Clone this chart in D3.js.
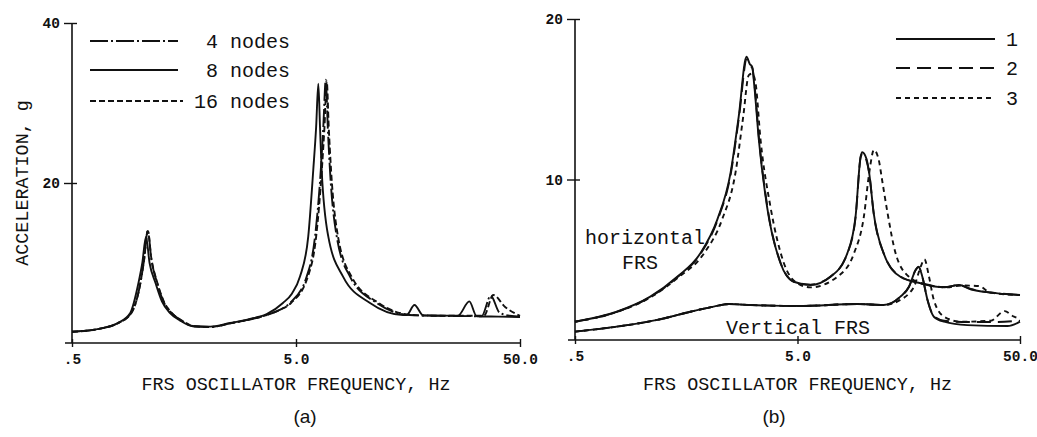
<!DOCTYPE html>
<html>
<head>
<meta charset="utf-8">
<script src="https://cdn.jsdelivr.net/npm/d3@7.9.0/dist/d3.min.js"></script>
<style>
  body { margin: 0; background: #fff; }
  svg { display: block; }
</style>
</head>
<body>
<svg id="chart" width="1037" height="437"></svg>
<script>
// ---- data: [frequency Hz, acceleration g] ----
const nodes4 = [
  [0.5, 1.4], [0.667, 1.8], [0.8, 2.45], [0.92, 3.75], [1.01, 7.5], [1.05, 10.5], [1.09, 14.1],
  [1.13, 10.5], [1.2, 7.5], [1.28, 5.2], [1.39, 3.75], [1.54, 2.8], [1.75, 2.1], [2.07, 2.0],
  [2.54, 2.45], [3.12, 2.95], [3.7, 3.5], [4.2, 4.1], [4.7, 5.0], [5.58, 8.3], [6.08, 13.3],
  [6.45, 21.6], [6.62, 27], [6.79, 32.9], [6.93, 27], [7.09, 21.6], [7.6, 13.3], [8.71, 8.3],
  [11.46, 5.0], [16.1, 3.5], [22, 3.4], [33.7, 3.35], [37.0, 5.9], [40.5, 3.8], [45, 3.4], [50, 3.3]
];
const nodes8 = [
  [0.5, 1.4], [0.667, 1.8], [0.8, 2.5], [0.91, 3.75], [0.99, 7.5], [1.03, 10], [1.07, 13.3],
  [1.11, 10], [1.18, 7.5], [1.26, 5.2], [1.37, 3.75], [1.52, 2.8], [1.73, 2.1], [2.07, 2.05],
  [2.54, 2.5], [3.12, 3.0], [3.7, 3.6], [4.37, 5.0], [4.8, 6.2], [5.21, 8.3], [5.67, 13.3],
  [5.97, 21.6], [6.15, 27], [6.29, 32.4], [6.4, 27], [6.51, 21.6], [6.97, 13.3], [8.11, 8.3],
  [10.7, 5.0], [15.0, 3.5], [15.6, 3.5], [16.9, 4.75], [18.5, 3.45], [26.4, 3.4], [29.7, 5.2],
  [32.0, 3.35], [40, 3.3], [50, 3.25]
];
const nodes16 = [
  [0.5, 1.4], [0.667, 1.8], [0.8, 2.45], [0.92, 3.75], [1.01, 7.5], [1.05, 10.5], [1.09, 14.0],
  [1.13, 10.6], [1.2, 7.6], [1.28, 5.3], [1.39, 3.8], [1.54, 2.85], [1.75, 2.1], [2.07, 2.0],
  [2.54, 2.45], [3.12, 2.95], [3.7, 3.5], [4.2, 4.1], [4.75, 5.0], [5.65, 8.3], [6.15, 13.3],
  [6.52, 21.6], [6.7, 27], [6.86, 32.7], [7.0, 27], [7.17, 21.6], [7.7, 13.3], [8.85, 8.3],
  [11.7, 5.0], [16.5, 3.5], [22, 3.4], [34.5, 3.4], [38.0, 6.0], [42.9, 4.5], [50, 3.4]
];

const horiz1 = [
  [0.5, 1.14], [0.77, 1.76], [1.09, 2.7], [1.44, 3.94], [1.83, 5.4], [2.18, 7.5], [2.5, 10.4],
  [2.72, 13.9], [2.95, 17.65], [3.05, 17.2], [3.13, 17.0], [3.2, 15.8], [3.35, 12.5], [3.65, 8.3],
  [4.19, 4.8], [4.81, 3.63], [5.72, 3.43], [7.04, 3.94], [8.37, 5.4], [9.12, 7.7], [9.6, 11.4],
  [9.77, 11.7], [10.2, 11.3], [10.5, 10.4], [11.0, 7.9], [12.2, 5.4], [14.5, 3.94], [17.9, 3.53],
  [22.8, 3.28], [26.6, 3.43], [30.0, 3.16], [36.9, 2.95], [50, 2.8]
];
const horiz2 = [
  [0.5, 1.14], [0.77, 1.75], [1.09, 2.68], [1.44, 3.9], [1.84, 5.4], [2.19, 7.5], [2.51, 10.4],
  [2.73, 13.9], [2.96, 17.5], [3.07, 17.1], [3.14, 16.9], [3.21, 15.8], [3.36, 12.5], [3.66, 8.3],
  [4.2, 4.8], [4.82, 3.63], [5.72, 3.45], [7.04, 3.96], [8.38, 5.4], [9.13, 7.7], [9.62, 11.4],
  [9.79, 11.6], [10.2, 11.2], [10.5, 10.4], [11.0, 7.9], [12.2, 5.4], [14.5, 3.96], [17.9, 3.55],
  [22.8, 3.3], [26.6, 3.42], [30.0, 3.18], [36.9, 2.96], [50, 2.82]
];
const horiz3 = [
  [0.5, 1.14], [0.77, 1.74], [1.09, 2.65], [1.44, 3.85], [1.9, 5.4], [2.29, 7.5], [2.63, 10.4],
  [2.85, 13.9], [3.02, 16.5], [3.13, 16.6], [3.24, 16.0], [3.41, 12.5], [3.78, 8.3], [4.34, 4.8],
  [5.0, 3.53], [5.72, 3.28], [7.55, 3.94], [8.97, 5.4], [9.94, 7.7], [10.5, 10.4], [11.03, 11.84],
  [11.6, 11.2], [12.0, 9.97], [12.7, 7.9], [13.8, 5.4], [15.85, 3.94], [19.2, 3.43], [23.6, 3.28],
  [27.1, 3.4], [32.7, 3.36], [36.9, 2.95], [50, 2.8]
];

const vert1 = [
  [0.5, 0.52], [0.77, 0.83], [1.17, 1.25], [1.65, 1.76], [2.1, 2.08], [2.46, 2.24], [3.07, 2.18],
  [5.16, 2.12], [9.28, 2.24], [12.2, 2.18], [14.5, 2.7], [15.85, 3.32], [16.98, 4.36], [17.5, 4.57],
  [18.2, 3.94], [19.2, 2.49], [20.5, 1.45], [22.8, 1.14], [29.0, 0.93], [43.9, 0.87], [50, 1.14]
];
const vert2 = [
  [0.5, 0.52], [0.77, 0.83], [1.17, 1.25], [1.65, 1.76], [2.1, 2.08], [2.46, 2.24], [3.07, 2.18],
  [5.16, 2.12], [9.28, 2.24], [12.2, 2.18], [14.5, 2.7], [15.85, 3.32], [16.98, 4.36], [17.5, 4.55],
  [18.2, 3.94], [19.2, 2.49], [20.5, 1.5], [22.8, 1.2], [29.0, 1.12], [38, 1.12], [50, 1.2]
];
const vert3 = [
  [0.5, 0.52], [0.77, 0.83], [1.17, 1.25], [1.65, 1.76], [2.1, 2.08], [2.46, 2.24], [3.07, 2.18],
  [5.16, 2.12], [9.28, 2.24], [12.2, 2.18], [14.5, 2.5], [15.85, 2.9], [16.7, 3.32], [17.9, 4.57],
  [18.6, 5.03], [19.5, 3.94], [20.5, 2.49], [22.8, 1.45], [27.1, 1.14], [36.9, 1.2], [42.7, 1.8],
  [47.0, 1.45], [50, 1.35]
];

const xTicks = [0.5, 5, 50];
const xTickLabels = ['.5', '5.0', '50.0'];
const yTicksA = [20, 40];
const yTicksB = [10, 20];
const legendA = ['4 nodes', '8 nodes', '16 nodes'];
const legendB = ['1', '2', '3'];

// ---- drawing ----
const svg = d3.select('#chart');
const mono = '"Liberation Mono", "Courier New", monospace';

const dashA = ['18,3,2,3', null, '6,3'];
const dashB = [null, '14,7', '5,4'];

function drawPanel(p) {
  const x = d3.scaleLog().domain([0.5, 50]).range(p.xRange);
  const y = d3.scaleLinear().domain(p.yDomain).range(p.yRange);
  const g = svg.append('g');

  // axes lines
  g.append('line')
    .attr('x1', p.xRange[0] - 7).attr('x2', p.xRange[1] + 1)
    .attr('y1', y(0)).attr('y2', y(0))
    .attr('stroke', '#111').attr('stroke-width', 1.6);
  g.append('line')
    .attr('x1', p.xRange[0]).attr('x2', p.xRange[0])
    .attr('y1', p.yRange[1]).attr('y2', y(0))
    .attr('stroke', '#111').attr('stroke-width', 1.6);

  const xAxis = g.append('g')
    .attr('transform', `translate(0,${y(0)})`)
    .call(d3.axisBottom(x).tickValues(xTicks)
      .tickFormat((d, i) => xTickLabels[i]).tickSize(4).tickPadding(7).tickSizeOuter(0));
  xAxis.select('.domain').remove();
  xAxis.selectAll('.tick line').attr('y1', -4).attr('stroke', '#111').attr('stroke-width', 1.4);
  xAxis.selectAll('text')
    .attr('font-family', mono).attr('font-size', 14.5).attr('font-weight', 'bold').attr('fill', '#111');

  const yAxis = g.append('g')
    .attr('transform', `translate(${p.xRange[0]},0)`)
    .call(d3.axisLeft(y).tickValues(p.yTicks).tickSize(8).tickPadding(4).tickSizeOuter(0));
  yAxis.select('.domain').remove();
  yAxis.selectAll('.tick line').attr('x1', 5).attr('stroke', '#111').attr('stroke-width', 1.4);
  yAxis.selectAll('text')
    .attr('font-family', mono).attr('font-size', 14.5).attr('font-weight', 'bold').attr('fill', '#111');

  // x title
  g.append('text')
    .attr('x', (p.xRange[0] + p.xRange[1]) / 2).attr('y', 390)
    .attr('text-anchor', 'middle')
    .attr('font-family', mono).attr('font-size', 18.4).attr('fill', '#111')
    .text('FRS OSCILLATOR FREQUENCY, Hz');

  // caption
  g.append('text')
    .attr('x', p.capX).attr('y', 423)
    .attr('text-anchor', 'middle')
    .attr('font-family', '"Liberation Sans", Arial, sans-serif').attr('font-size', 19).attr('fill', '#111')
    .text(p.caption);

  const line = d3.line().x(d => x(d[0])).y(d => y(d[1])).curve(d3.curveMonotoneX);
  p.series.forEach((s, i) => {
    g.append('path')
      .datum(s)
      .attr('d', line)
      .attr('fill', 'none')
      .attr('stroke', '#111')
      .attr('stroke-width', 1.9)
      .attr('stroke-linejoin', 'round')
      .attr('stroke-dasharray', p.dash[p.seriesKey[i]]);
  });
  return { g, x, y };
}

drawPanel({
  xRange: [72, 520], yRange: [343, 23], yDomain: [0, 40], yTicks: yTicksA,
  series: [nodes4, nodes8, nodes16], seriesKey: [0, 1, 2], dash: dashA,
  caption: '(a)', capX: 305
});
drawPanel({
  xRange: [575, 1020], yRange: [340, 19], yDomain: [0, 20], yTicks: yTicksB,
  series: [horiz1, horiz2, horiz3, vert1, vert2, vert3], seriesKey: [0, 1, 2, 0, 1, 2], dash: dashB,
  caption: '(b)', capX: 774
});

// y title of panel (a)
svg.append('text')
  .attr('transform', 'translate(28,183) rotate(-90)')
  .attr('text-anchor', 'middle')
  .attr('font-family', mono).attr('font-size', 18.4).attr('fill', '#111')
  .text('ACCELERATION, g');

// legend (a)
const legAY = [41, 70, 101];
const legAEnd = [178, 178, 183];
legendA.forEach((t, i) => {
  svg.append('line')
    .attr('x1', 90).attr('x2', legAEnd[i]).attr('y1', legAY[i]).attr('y2', legAY[i])
    .attr('stroke', '#111').attr('stroke-width', 1.8)
    .attr('stroke-dasharray', dashA[i]);
  svg.append('text')
    .attr('x', 290).attr('y', legAY[i] + 7)
    .attr('text-anchor', 'end')
    .attr('font-family', mono).attr('font-size', 20).attr('fill', '#111')
    .text(t);
});

// legend (b)
const legBY = [39, 68, 98];
legendB.forEach((t, i) => {
  svg.append('line')
    .attr('x1', 896).attr('x2', 995).attr('y1', legBY[i]).attr('y2', legBY[i])
    .attr('stroke', '#111').attr('stroke-width', 1.8)
    .attr('stroke-dasharray', dashB[i]);
  svg.append('text')
    .attr('x', 1006).attr('y', legBY[i] + 7)
    .attr('font-family', mono).attr('font-size', 20).attr('fill', '#111')
    .text(t);
});

// curve labels (b)
[['horizontal', 645, 244], ['FRS', 640, 269], ['Vertical FRS', 798, 334]].forEach(([t, tx, ty]) => {
  svg.append('text')
    .attr('x', tx).attr('y', ty)
    .attr('text-anchor', 'middle')
    .attr('font-family', mono).attr('font-size', 20).attr('fill', '#111')
    .text(t);
});
</script>
</body>
</html>
